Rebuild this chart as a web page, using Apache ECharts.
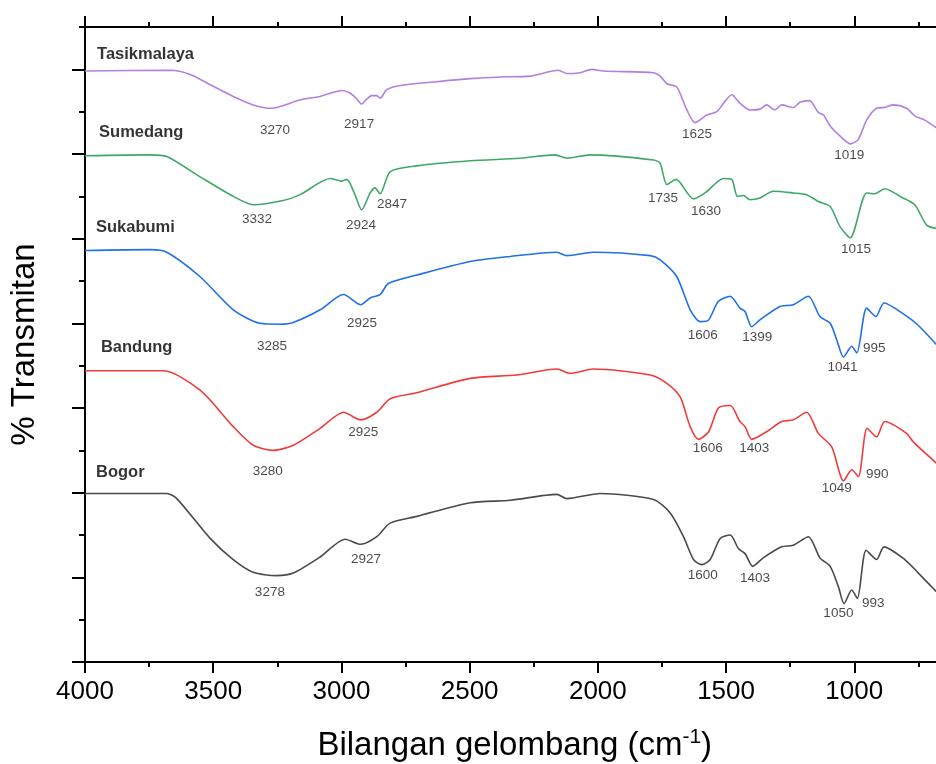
<!DOCTYPE html>
<html>
<head>
<meta charset="utf-8">
<script src="https://cdn.jsdelivr.net/npm/echarts@6/dist/echarts.min.js"></script>
<style>html,body{margin:0;padding:0;background:#fff}#c{width:936px;height:764px}</style>
</head>
<body>
<div id="c"></div>
<script>
// x: wavenumber (cm-1), y: stacked % transmittance (arbitrary offset units)
var tasikmalaya = [[4000,6.98],[3668,6.99],[3590,6.94],[3500,6.80],[3422,6.68],[3344,6.58],[3272,6.54],[3161,6.64],[3083,6.68],[2999,6.75],[2967,6.72],[2940,6.65],[2921,6.59],[2901,6.65],[2882,6.69],[2862,6.69],[2849,6.66],[2823,6.76],[2771,6.81],[2642,6.85],[2498,6.89],[2381,6.91],[2264,6.92],[2154,6.99],[2121,6.95],[2069,6.96],[2024,7.00],[1979,6.98],[1783,6.96],[1757,6.92],[1731,6.83],[1692,6.79],[1653,6.52],[1621,6.37],[1575,6.46],[1536,6.50],[1510,6.60],[1478,6.70],[1446,6.60],[1407,6.52],[1368,6.53],[1342,6.58],[1310,6.52],[1283,6.58],[1238,6.55],[1212,6.61],[1175,6.63],[1140,6.49],[1120,6.46],[1094,6.33],[1055,6.21],[1016,6.12],[985,6.17],[952,6.40],[913,6.54],[881,6.55],[848,6.58],[796,6.54],[764,6.45],[725,6.40],[680,6.31]];
var sumedang = [[4000,5.98],[3746,5.99],[3681,5.97],[3551,5.73],[3422,5.50],[3344,5.40],[3227,5.45],[3161,5.52],[3044,5.71],[2999,5.68],[2979,5.70],[2950,5.54],[2921,5.34],[2888,5.54],[2869,5.60],[2849,5.53],[2810,5.79],[2706,5.86],[2498,5.92],[2303,5.95],[2167,5.99],[2121,5.95],[2030,5.99],[1783,5.93],[1757,5.89],[1731,5.64],[1695,5.70],[1627,5.47],[1582,5.54],[1510,5.71],[1478,5.70],[1456,5.50],[1432,5.51],[1407,5.46],[1368,5.48],[1316,5.56],[1238,5.54],[1186,5.52],[1140,5.44],[1094,5.38],[1055,5.14],[1016,5.01],[952,5.54],[920,5.53],[881,5.59],[816,5.49],[764,5.40],[718,5.16],[680,5.12]];
var sukabumi = [[4000,4.86],[3746,4.87],[3681,4.84],[3551,4.55],[3422,4.16],[3318,4.00],[3240,3.99],[3188,4.01],[3083,4.16],[2992,4.34],[2925,4.22],[2888,4.30],[2849,4.34],[2817,4.47],[2706,4.57],[2498,4.73],[2342,4.79],[2160,4.84],[2121,4.80],[2017,4.84],[1796,4.80],[1757,4.75],[1692,4.55],[1640,4.16],[1601,4.02],[1568,4.04],[1530,4.26],[1484,4.32],[1446,4.18],[1426,4.14],[1400,3.96],[1368,4.04],[1290,4.20],[1238,4.22],[1179,4.32],[1134,4.08],[1094,4.00],[1068,3.80],[1042,3.60],[1010,3.73],[990,3.65],[952,4.18],[916,4.08],[884,4.24],[803,4.10],[752,3.98],[680,3.75]];
var bandung = [[4000,3.44],[3694,3.44],[3551,3.21],[3422,2.78],[3344,2.56],[3266,2.50],[3188,2.56],[3083,2.76],[2992,2.95],[2925,2.86],[2862,2.95],[2810,3.11],[2706,3.18],[2498,3.35],[2316,3.39],[2160,3.46],[2108,3.41],[2017,3.46],[1796,3.39],[1731,3.29],[1679,3.13],[1640,2.78],[1608,2.63],[1568,2.72],[1530,3.00],[1484,3.03],[1446,2.84],[1426,2.78],[1400,2.63],[1342,2.72],[1283,2.84],[1238,2.86],[1186,2.95],[1140,2.70],[1088,2.54],[1042,2.14],[1010,2.27],[984,2.19],[950,2.76],[913,2.66],[881,2.84],[796,2.70],[770,2.60],[680,2.35]];
var bogor = [[4000,1.99],[3681,1.99],[3642,1.93],[3512,1.46],[3422,1.21],[3344,1.06],[3253,1.02],[3188,1.05],[3083,1.24],[2986,1.45],[2925,1.39],[2862,1.48],[2810,1.64],[2706,1.72],[2498,1.88],[2342,1.91],[2160,1.98],[2121,1.93],[1991,1.99],[1783,1.92],[1718,1.76],[1666,1.48],[1627,1.21],[1595,1.15],[1562,1.21],[1523,1.46],[1484,1.50],[1452,1.34],[1426,1.28],[1396,1.13],[1355,1.23],[1283,1.36],[1238,1.38],[1179,1.48],[1134,1.23],[1094,1.13],[1062,0.89],[1040,0.69],[1010,0.85],[988,0.75],[954,1.32],[913,1.21],[884,1.36],[803,1.21],[750,1.05],[680,0.83]];

var seriesNames = ['Tasikmalaya','Sumedang','Sukabumi','Bandung','Bogor'];
var seriesColors = ['#b27fe0','#3fa866','#2070e6','#ee3c3c','#4a4a4a'];
// sample name label anchors [wavenumber, y]
var nameAnchors = [[3953,7.18],[3945,6.25],[3957,5.13],[3938,3.72],[3957,2.24]];
// peak annotations [wavenumber, y, text]
var peaks = [
  [3259,6.28,'3270'],[2931,6.35,'2917'],[1613,6.23,'1625'],[1020,5.99,'1019'],
  [3329,5.23,'3332'],[2924,5.16,'2924'],[2803,5.41,'2847'],[1746,5.48,'1735'],[1578,5.32,'1630'],[993,4.88,'1015'],
  [3271,3.73,'3285'],[2920,4.00,'2925'],[1591,3.86,'1606'],[1378,3.84,'1399'],[1046,3.48,'1041'],[922,3.70,'995'],
  [3287,2.25,'3280'],[2915,2.71,'2925'],[1571,2.53,'1606'],[1390,2.53,'1403'],[1068,2.05,'1049'],[910,2.22,'990'],
  [3279,0.82,'3278'],[2904,1.21,'2927'],[1591,1.02,'1600'],[1387,0.99,'1403'],[1062,0.57,'1050'],[926,0.69,'993']
];
var xTicks = {min:500, max:4000, interval:500};
var yMajorTicks = [0,1,2,3,4,5,6,7];

var FONT = '"Liberation Sans", Arial, sans-serif';
var spectra = [tasikmalaya, sumedang, sukabumi, bandung, bogor];

var series = spectra.map(function(d,i){
  return {
    type:'line', name: seriesNames[i], data:d, showSymbol:false, smooth:0.25,
    lineStyle:{color:seriesColors[i], width:1.6}, itemStyle:{color:seriesColors[i]},
    xAxisIndex:0, yAxisIndex:0, z:3, silent:true
  };
});
series.push({
  type:'scatter', symbolSize:0, xAxisIndex:0, yAxisIndex:0, silent:true,
  data: nameAnchors.map(function(a,i){return {value:a, name:seriesNames[i]};}),
  label:{show:true, position:'inside', align:'left', verticalAlign:'middle',
    formatter:function(p){return p.name;}, fontFamily:FONT, fontWeight:'bold', fontSize:16.5, color:'#000'}
});
series.push({
  type:'scatter', symbolSize:0, xAxisIndex:0, yAxisIndex:0, silent:true,
  data: peaks.map(function(p){return {value:[p[0],p[1]], name:p[2]};}),
  label:{show:true, position:'inside', align:'center', verticalAlign:'middle',
    formatter:function(p){return p.name;}, fontFamily:FONT, fontSize:13.5, color:'#1a1a1a'}
});

var axisLine = {show:true, onZero:false, lineStyle:{color:'#000', width:2}};
var chart = echarts.init(document.getElementById('c'), null, {renderer:'canvas'});
chart.setOption({
  animation:false,
  backgroundColor:'#fff',
  grid:{left:85, top:27, width:897.5, height:635, containLabel:false, outerBoundsMode:'none'},
  xAxis:[
    {type:'value', position:'bottom', inverse:true, min:xTicks.min, max:xTicks.max, interval:xTicks.interval,
     axisLine:axisLine, axisTick:{show:true, inside:false, length:11, lineStyle:{color:'#000', width:2}},
     minorTick:{show:true, splitNumber:2, length:5, lineStyle:{color:'#000', width:2}},
     splitLine:{show:false},
     axisLabel:{show:true, margin:17, fontFamily:FONT, fontSize:26, color:'#000', formatter:function(v){return String(v);}},
     name:'{a|Bilangan gelombang (cm}{s|-1}{a|)}', nameLocation:'middle', nameGap:65,
     nameTextStyle:{padding:[0,38,0,0],
                    rich:{a:{fontFamily:FONT, fontSize:33, color:'#000', lineHeight:38},
                          s:{fontFamily:FONT, fontSize:21, color:'#000', verticalAlign:'top', lineHeight:38}}}},
    {type:'value', position:'top', inverse:true, min:xTicks.min, max:xTicks.max, interval:xTicks.interval,
     axisLine:axisLine, axisTick:{show:true, inside:false, length:11, lineStyle:{color:'#000', width:2}},
     minorTick:{show:true, splitNumber:2, length:5, lineStyle:{color:'#000', width:2}},
     splitLine:{show:false}, axisLabel:{show:false}}
  ],
  yAxis:[
    {type:'value', position:'left', min:0, max:7.5, interval:0.5,
     axisLine:axisLine, axisTick:{show:true, inside:false, length:6, lineStyle:{color:'#000', width:2}},
     splitLine:{show:false}, axisLabel:{show:false},
     name:'% Transmitan', nameLocation:'middle', nameGap:44,
     nameTextStyle:{fontFamily:FONT, fontSize:33, color:'#000'}},
    {type:'value', position:'left', min:0, max:7.5,
     axisLine:{show:false, onZero:false}, axisTick:{show:true, inside:false, length:13, customValues:yMajorTicks, lineStyle:{color:'#000', width:2}},
     splitLine:{show:false}, axisLabel:{show:false}}
  ],
  series:series
});
</script>
</body>
</html>
